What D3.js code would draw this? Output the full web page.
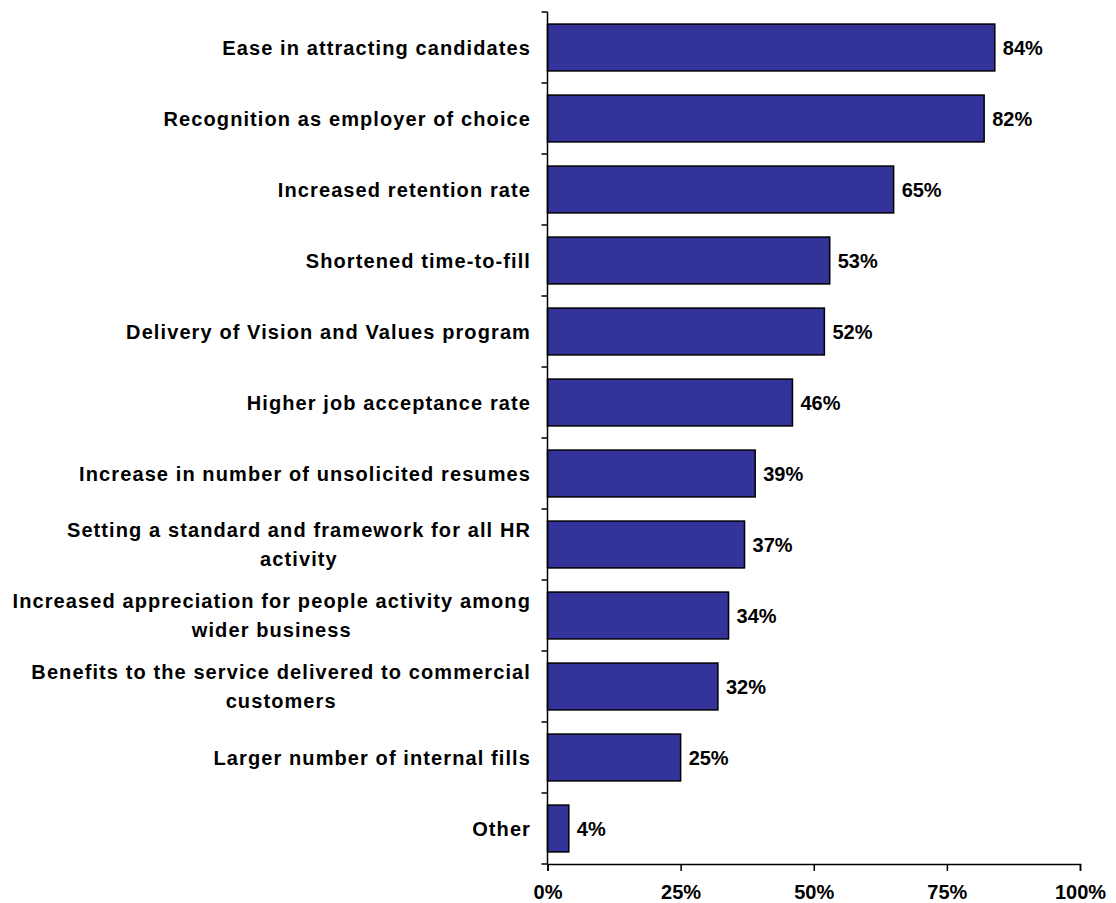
<!DOCTYPE html>
<html>
<head>
<meta charset="utf-8">
<script src="https://cdn.jsdelivr.net/npm/d3@7"></script>
<style>
  html, body { margin: 0; padding: 0; background: #fff; }
  svg { display: block; font-family: "Liberation Sans", Arial, sans-serif; font-weight: bold; }
</style>
</head>
<body>
<svg id="chart" width="1116" height="903"></svg>
<script>
// Survey responses: share of organisations reporting each benefit
const categories = [
  "Ease in attracting candidates",
  "Recognition as employer of choice",
  "Increased retention rate",
  "Shortened time-to-fill",
  "Delivery of Vision and Values program",
  "Higher job acceptance rate",
  "Increase in number of unsolicited resumes",
  "Setting a standard and framework for all HR\nactivity",
  "Increased appreciation for people activity among\nwider business",
  "Benefits to the service delivered to commercial\ncustomers",
  "Larger number of internal fills",
  "Other"
];
const values = [84, 82, 65, 53, 52, 46, 39, 37, 34, 32, 25, 4];
const xTicks = [0, 25, 50, 75, 100];

const svg = d3.select("#chart");
const plotLeft = 547.5, plotRight = 1080, plotTop = 12, plotBottom = 864;

const x = d3.scaleLinear().domain([0, 100]).range([plotLeft, plotRight]);
const y = d3.scaleBand()
  .domain(categories)
  .range([plotTop, plotBottom])
  .paddingInner(0.34)
  .paddingOuter(0.17);

// bars
svg.append("g")
  .selectAll("rect")
  .data(categories)
  .join("rect")
  .attr("x", x(0))
  .attr("y", d => y(d))
  .attr("width", (d, i) => x(values[i]) - x(0))
  .attr("height", y.bandwidth())
  .attr("fill", "#333399")
  .attr("stroke", "#000")
  .attr("stroke-width", 1.5);

// value labels
svg.append("g")
  .selectAll("text")
  .data(categories)
  .join("text")
  .attr("x", (d, i) => x(values[i]) + 8)
  .attr("y", d => y(d) + y.bandwidth() / 2)
  .attr("dy", "0.35em")
  .attr("font-size", 20)
  .attr("fill", "#000")
  .text((d, i) => values[i] + "%");

// y axis: line with ticks at band boundaries
const yAxis = svg.append("g");
yAxis.append("line")
  .attr("x1", plotLeft).attr("x2", plotLeft)
  .attr("y1", plotTop).attr("y2", plotBottom)
  .attr("stroke", "#000").attr("stroke-width", 1.5);
const step = y.step();
const bounds = d3.range(categories.length + 1).map(i => plotTop + i * step);
yAxis.selectAll("line.tick")
  .data(bounds)
  .join("line")
  .attr("class", "tick")
  .attr("x1", plotLeft - 6).attr("x2", plotLeft)
  .attr("y1", d => d).attr("y2", d => d)
  .attr("stroke", "#000").attr("stroke-width", 1.5);

// category labels: right-aligned block, wrapped lines centred within it
const labelRight = 531;
const lineH = 29.5;
const labels = svg.append("g")
  .attr("font-size", 20)
  .attr("letter-spacing", "1.1px")
  .attr("fill", "#000");
categories.forEach(cat => {
  const lines = cat.split("\n");
  const g = labels.append("g");
  const cy = y(cat) + y.bandwidth() / 2;
  const texts = lines.map((ln, j) => g.append("text")
    .attr("y", cy + (j - (lines.length - 1) / 2) * lineH)
    .attr("dy", "0.35em")
    .text(ln));
  const widths = texts.map(t => t.node().getComputedTextLength());
  const maxW = d3.max(widths);
  const centre = labelRight - maxW / 2;
  texts.forEach(t => t.attr("x", centre).attr("text-anchor", "middle"));
});

// x axis
const xAxis = svg.append("g")
  .attr("transform", `translate(0,${plotBottom})`)
  .call(d3.axisBottom(x).tickValues(xTicks).tickFormat(d => d + "%").tickSize(7).tickPadding(14));
xAxis.select(".domain").attr("stroke", "#000").attr("stroke-width", 1.5);
xAxis.selectAll(".tick line").attr("stroke", "#000").attr("stroke-width", 1.5);
xAxis.selectAll(".tick text")
  .attr("font-size", 20)
  .attr("font-family", "Liberation Sans, Arial, sans-serif")
  .attr("font-weight", "bold")
  .attr("fill", "#000");
</script>
</body>
</html>
